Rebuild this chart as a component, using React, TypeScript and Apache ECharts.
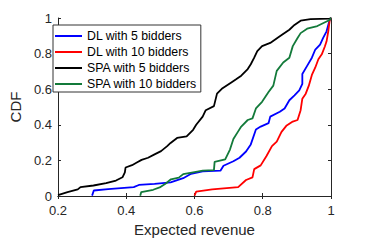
import React, { useEffect, useRef } from "react";
import * as echarts from "echarts";

const seriesNames = ["DL with 5 bidders", "DL with 10 bidders", "SPA with 5 bidders", "SPA with 10 bidders"];
const seriesColors = ["#0000ff", "#ff0000", "#000000", "#137a3a"];

const dl5: number[][] = [
  [0.30, 0.002], [0.305, 0.031], [0.347, 0.039], [0.422, 0.05], [0.437, 0.062], [0.483, 0.068],
  [0.53, 0.077], [0.567, 0.1], [0.59, 0.125], [0.624, 0.138], [0.676, 0.142], [0.685, 0.17],
  [0.714, 0.195], [0.732, 0.215], [0.751, 0.25], [0.765, 0.29], [0.78, 0.374], [0.794, 0.39],
  [0.817, 0.409], [0.822, 0.446], [0.85, 0.473], [0.864, 0.492], [0.878, 0.538], [0.893, 0.565],
  [0.907, 0.593], [0.916, 0.63], [0.916, 0.685], [0.93, 0.731], [0.944, 0.777], [0.954, 0.823],
  [0.968, 0.851], [0.977, 0.888], [0.987, 0.925], [0.992, 0.961], [0.996, 0.989], [1, 1],
];

const dl10: number[][] = [
  [0.60, 0.002], [0.605, 0.024], [0.652, 0.037], [0.728, 0.05], [0.751, 0.09], [0.77, 0.105],
  [0.775, 0.151], [0.794, 0.172], [0.811, 0.225], [0.827, 0.28], [0.841, 0.305], [0.855, 0.36],
  [0.869, 0.394], [0.888, 0.418], [0.902, 0.427], [0.911, 0.482], [0.916, 0.547], [0.926, 0.575],
  [0.935, 0.62], [0.944, 0.68], [0.954, 0.722], [0.963, 0.768], [0.973, 0.796], [0.982, 0.84],
  [0.987, 0.869], [0.992, 0.925], [0.996, 0.985], [1, 1],
];

const spa5: number[][] = [
  [0.2, 0.005], [0.228, 0.022], [0.258, 0.037], [0.266, 0.05], [0.304, 0.059], [0.341, 0.072],
  [0.37, 0.087], [0.389, 0.105], [0.396, 0.133], [0.398, 0.16], [0.417, 0.173], [0.431, 0.188],
  [0.445, 0.203], [0.464, 0.215], [0.483, 0.234], [0.502, 0.252], [0.52, 0.28], [0.53, 0.298],
  [0.549, 0.326], [0.577, 0.335], [0.596, 0.372], [0.605, 0.4], [0.624, 0.446], [0.633, 0.482],
  [0.657, 0.505], [0.666, 0.575], [0.68, 0.602], [0.709, 0.639], [0.723, 0.657], [0.737, 0.676],
  [0.756, 0.713], [0.765, 0.74], [0.775, 0.777], [0.784, 0.814], [0.798, 0.842], [0.822, 0.86],
  [0.85, 0.897], [0.878, 0.934], [0.893, 0.961], [0.911, 0.985], [0.94, 0.994], [0.996, 0.997], [1, 1],
];

const spa10: number[][] = [
  [0.441, 0.002], [0.444, 0.022], [0.479, 0.035], [0.498, 0.048], [0.517, 0.072], [0.531, 0.094],
  [0.554, 0.103], [0.567, 0.123], [0.596, 0.133], [0.624, 0.142], [0.657, 0.145], [0.659, 0.192],
  [0.69, 0.206], [0.704, 0.261], [0.714, 0.32], [0.728, 0.363], [0.737, 0.39], [0.756, 0.427],
  [0.77, 0.436], [0.78, 0.492], [0.798, 0.529], [0.817, 0.584], [0.831, 0.62], [0.841, 0.703],
  [0.86, 0.75], [0.878, 0.777], [0.888, 0.842], [0.902, 0.888], [0.911, 0.915], [0.93, 0.94],
  [0.96, 0.955], [0.996, 0.989], [1, 1],
];

const seriesData = [dl5, dl10, spa5, spa10];

const xName = "Expected revenue";
const yName = "CDF";

const FONT = "'Liberation Sans', Arial, Helvetica, sans-serif";
const AX = "#262626";

function fmt(v: number) {
  return String(parseFloat(v.toFixed(1)));
}

export default function App() {
  const ref = useRef<HTMLDivElement>(null);
  useEffect(() => {
    if (!ref.current) return;
    const chart = echarts.init(ref.current, undefined, { renderer: "svg" });
    const boxAxis = (pos: string) => ({
      position: pos,
      axisLine: { show: true, lineStyle: { color: AX, width: 1 } },
      axisTick: { show: true, inside: true, length: 3, lineStyle: { color: AX, width: 1 } },
      axisLabel: { show: false },
      splitLine: { show: false },
    });
    chart.setOption({
      animation: false,
      backgroundColor: "#ffffff",
      textStyle: { fontFamily: FONT },
      grid: { left: 48, top: 18, width: 283, height: 181, containLabel: false },
      legend: {
        left: 53,
        top: 25,
        orient: "vertical",
        data: seriesNames,
        icon: "rect",
        itemWidth: 27,
        itemHeight: 2,
        itemGap: 4,
        itemTextGap: 5,
        padding: [5, 4, 2, 2],
        borderColor: "#333333",
        borderWidth: 1,
        borderRadius: 0,
        backgroundColor: "#ffffff",
        textStyle: { fontFamily: FONT, fontSize: 12.3, color: "#000000" },
      },
      xAxis: [
        {
          type: "value",
          min: 0.2,
          max: 1,
          interval: 0.2,
          position: "bottom",
          name: xName,
          nameLocation: "middle",
          nameGap: 26,
          nameTextStyle: { fontFamily: FONT, fontSize: 15, color: AX },
          axisLine: { show: true, onZero: false, lineStyle: { color: AX, width: 1 } },
          axisTick: { show: true, inside: true, length: 3, lineStyle: { color: AX, width: 1 } },
          axisLabel: { margin: 8, fontFamily: FONT, fontSize: 13, color: AX, formatter: fmt },
          splitLine: { show: false },
        },
        { type: "value", min: 0.2, max: 1, interval: 0.2, ...boxAxis("top") },
      ],
      yAxis: [
        {
          type: "value",
          min: 0,
          max: 1,
          interval: 0.2,
          position: "left",
          name: yName,
          nameLocation: "middle",
          nameGap: 31,
          nameTextStyle: { fontFamily: FONT, fontSize: 15, color: AX },
          axisLine: { show: true, onZero: false, lineStyle: { color: AX, width: 1 } },
          axisTick: { show: true, inside: true, length: 3, lineStyle: { color: AX, width: 1 } },
          axisLabel: { margin: 6, fontFamily: FONT, fontSize: 13, color: AX, formatter: fmt },
          splitLine: { show: false },
        },
        { type: "value", min: 0, max: 1, interval: 0.2, ...boxAxis("right") },
      ],
      series: seriesNames.map((name, i) => ({
        name,
        type: "line",
        xAxisIndex: 0,
        yAxisIndex: 0,
        data: seriesData[i],
        showSymbol: false,
        symbol: "none",
        color: seriesColors[i],
        lineStyle: { color: seriesColors[i], width: 1.8 },
        z: 2 + i,
      })),
    });
    return () => chart.dispose();
  }, []);
  return (
    <div
      ref={ref}
      style={{ position: "fixed", left: 0, top: 0, width: 366, height: 242, background: "#fff" }}
    />
  );
}
